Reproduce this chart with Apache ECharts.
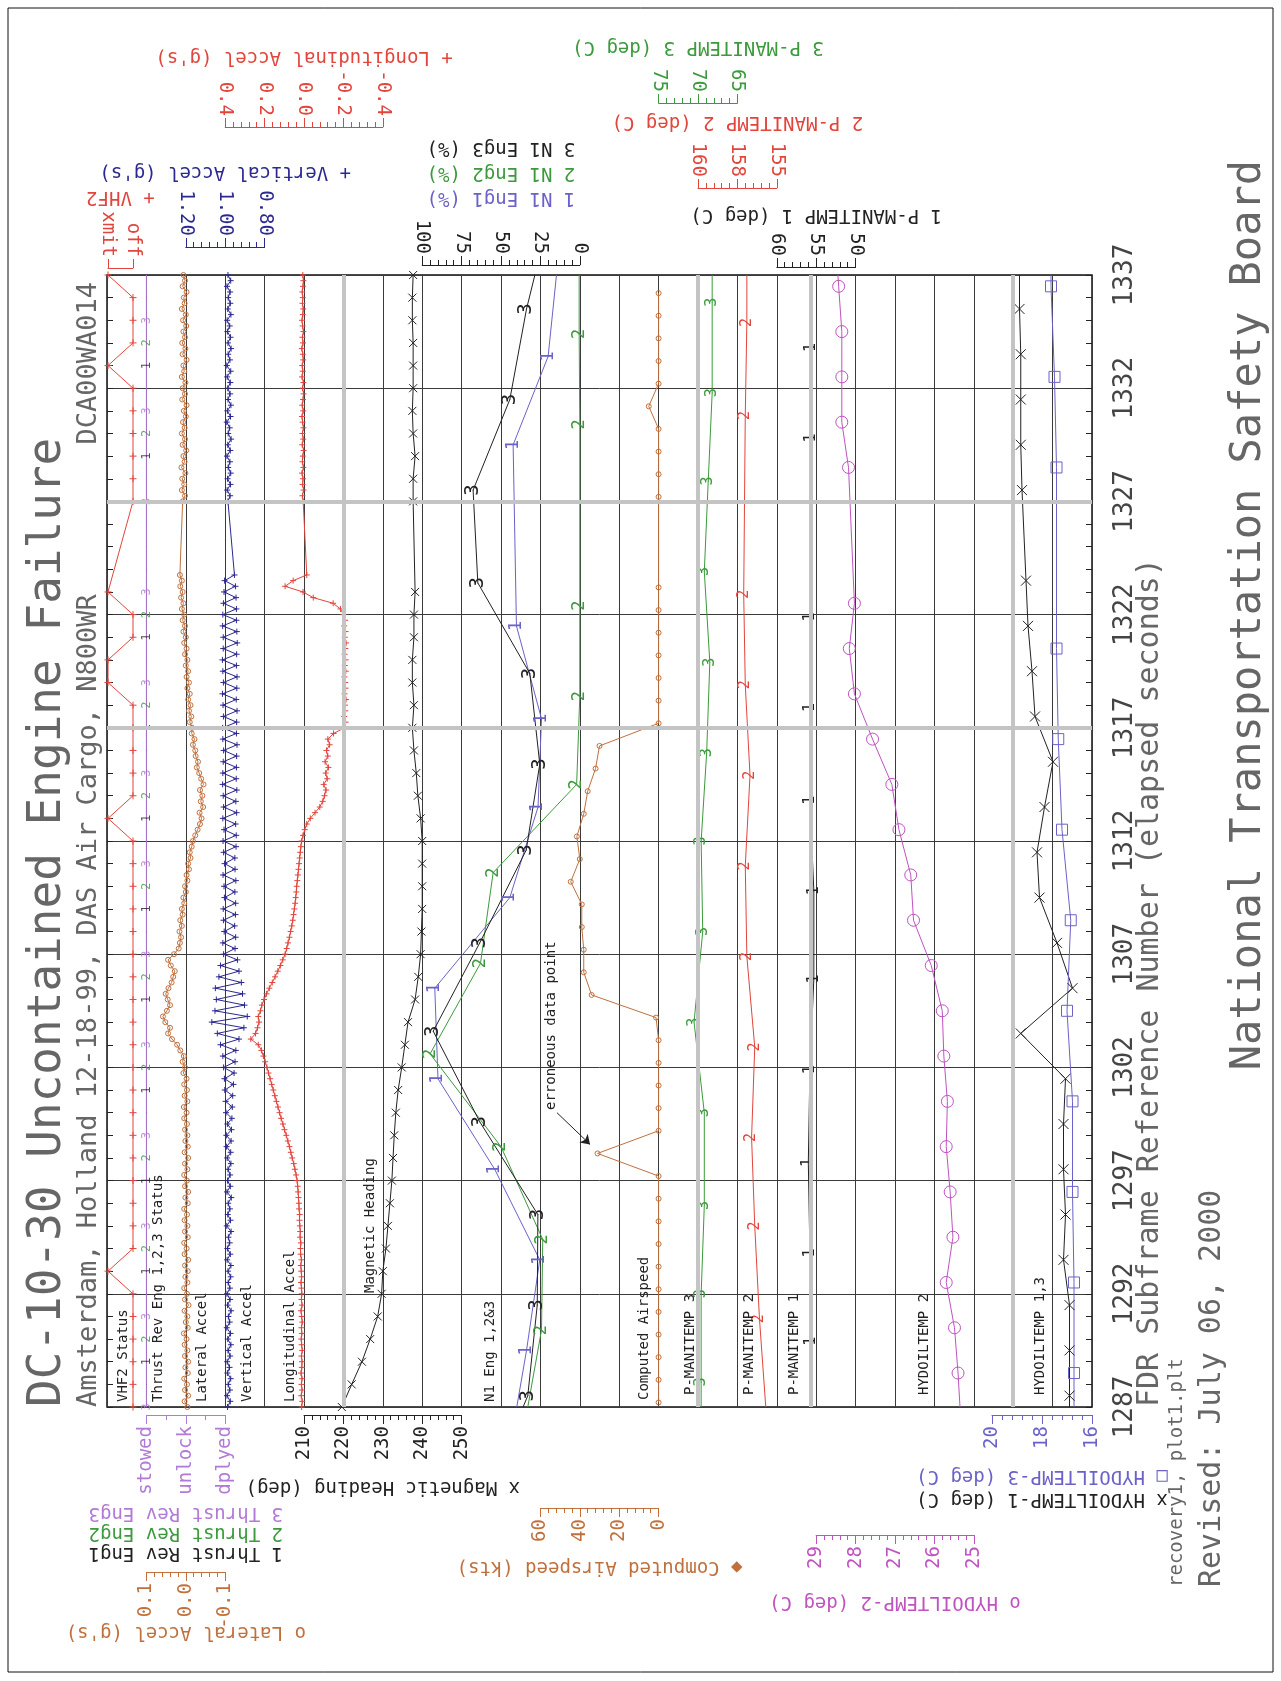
<!DOCTYPE html>
<html>
<head>
<meta charset="utf-8">
<script src="https://cdn.jsdelivr.net/npm/echarts@6/dist/echarts.min.js"></script>
<style>
  html, body { margin: 0; padding: 0; background: #fff; overflow: hidden; }
  #chart { width: 1281px; height: 1681px; }
</style>
</head>
<body>
<div id="chart"></div>
<script>
/* DC-10-30 uncontained engine failure - FDR plot (page is portrait, time runs upward) */

// ---------- data ----------
var tStart = 1287, tEnd = 1337;

// 4 Hz accelerations, first sample at 1287.00 (null = dropout 1324-1327)
var accelStep = 0.25;
var lonAccel = [
  0.012, 0.009, 0.014, 0.010, 0.013, 0.010, 0.015, 0.011, 0.010, 0.013, 0.009, 0.012, 0.014, 0.011, 0.013, 0.009, 0.012, 0.015, 0.010, 0.013,
  0.011, 0.013, 0.015, 0.012, 0.014, 0.016, 0.013, 0.017, 0.018, 0.016, 0.020, 0.019, 0.021, 0.023, 0.022, 0.025, 0.026, 0.028, 0.030, 0.032,
  0.035, 0.040, 0.046, 0.052, 0.060, 0.067, 0.074, 0.082, 0.090, 0.099, 0.107, 0.116, 0.124, 0.132, 0.140, 0.148, 0.156, 0.164, 0.172, 0.180,
  0.188, 0.197, 0.206, 0.216, 0.232, 0.270, 0.246, 0.236, 0.228, 0.232, 0.221, 0.214, 0.203, 0.190, 0.176, 0.161, 0.147, 0.133, 0.120, 0.108,
  0.096, 0.088, 0.081, 0.074, 0.068, 0.062, 0.057, 0.053, 0.049, 0.045, 0.042, 0.039, 0.037, 0.034, 0.031, 0.028, 0.025, 0.022, 0.019, 0.016,
  0.012, 0.005, -0.004, -0.014, -0.032, -0.056, -0.080, -0.095, -0.104, -0.112, -0.100, -0.118, -0.110, -0.124, -0.107, -0.121, -0.114, -0.130, -0.121, -0.150,
  -0.206, -0.211, -0.204, -0.210, -0.208, -0.213, -0.206, -0.211, -0.209, -0.205, -0.212, -0.207, -0.211, -0.206, -0.210, -0.213, -0.207, -0.211, -0.204, -0.209,
  -0.200, -0.185, -0.148, -0.047, 0.005, 0.096, 0.055, -0.014, null, null, null, null, null, null, null, null, null, null, null, null,
  0.004, 0.008, 0.002, 0.007, 0.005, 0.010, 0.003, 0.008, 0.006, 0.002, 0.009, 0.004, 0.008, 0.003, 0.007, 0.010, 0.004, 0.009, 0.005, 0.002,
  0.007, 0.003, 0.010, 0.006, 0.009, 0.004, 0.006, 0.011, 0.005, 0.008, 0.003, 0.007, 0.010, 0.006, 0.004, 0.008, 0.006, 0.009, 0.005, 0.003,
  0.006
];
var vertAccel = [
  0.988, 0.974, 0.991, 0.976, 0.985, 0.972, 0.989, 0.978, 0.990, 0.975, 0.986, 0.971, 0.987, 0.973, 0.992, 0.977, 0.984, 0.970, 0.988, 0.975,
  0.991, 0.976, 0.985, 0.972, 0.986, 0.971, 0.990, 0.974, 0.989, 0.977, 0.984, 0.970, 0.992, 0.973, 0.987, 0.976, 0.985, 0.969, 0.991, 0.974,
  0.988, 0.975, 0.986, 0.971, 0.990, 0.972, 0.993, 0.970, 0.994, 0.968, 0.989, 0.966, 0.996, 0.964, 0.998, 0.962, 1.002, 0.958, 1.004, 0.955,
  1.008, 0.950, 1.012, 0.946, 1.024, 0.930, 1.040, 0.905, 1.068, 0.888, 1.052, 0.902, 1.045, 0.912, 1.050, 0.918, 1.032, 0.930, 1.024, 0.938,
  1.008, 0.950, 1.012, 0.947, 1.005, 0.952, 1.009, 0.948, 1.010, 0.947, 1.004, 0.951, 1.006, 0.946, 1.011, 0.950, 1.003, 0.951, 1.008, 0.945,
  1.011, 0.944, 1.006, 0.947, 1.012, 0.942, 1.008, 0.946, 1.010, 0.941, 1.013, 0.944, 1.012, 0.943, 1.010, 0.942, 1.008, 0.940, 1.012, 0.943,
  1.013, 0.942, 1.009, 0.940, 1.011, 0.944, 1.014, 0.941, 1.009, 0.940, 1.012, 0.943, 1.014, 0.942, 1.010, 0.939, 1.010, 0.941, 1.013, 0.943,
  1.012, 0.943, 1.009, 0.945, 1.006, 0.948, 1.003, 0.953, null, null, null, null, null, null, null, null, null, null, null, null,
  0.986, 0.975, 0.990, 0.973, 0.988, 0.972, 0.985, 0.976, 0.991, 0.974, 0.987, 0.970, 0.985, 0.977, 0.992, 0.973, 0.989, 0.971, 0.986, 0.975,
  0.987, 0.974, 0.990, 0.972, 0.992, 0.976, 0.985, 0.970, 0.986, 0.973, 0.989, 0.977, 0.990, 0.971, 0.987, 0.974, 0.985, 0.975, 0.991, 0.972,
  0.986
];
var latAccel = [
  -0.004, 0.003, -0.006, 0.002, -0.003, 0.004, -0.005, 0.001, -0.006, 0.002, -0.004, 0.003, -0.002, 0.005, -0.005, 0.000, -0.004, 0.003, -0.007, 0.002,
  -0.003, 0.004, -0.004, 0.001, -0.005, 0.002, -0.006, 0.003, -0.002, 0.004, -0.005, 0.002, -0.004, 0.003, -0.003, 0.004, -0.005, 0.001, -0.006, 0.002,
  -0.003, 0.004, -0.004, 0.002, -0.006, 0.003, -0.005, 0.001, -0.004, 0.002, -0.003, 0.004, -0.002, 0.005, -0.004, 0.003, -0.003, 0.004, -0.002, 0.006,
  0.002, 0.008, 0.005, 0.014, 0.022, 0.035, 0.045, 0.040, 0.052, 0.058, 0.048, 0.040, 0.046, 0.051, 0.044, 0.036, 0.032, 0.028, 0.038, 0.045,
  0.030, 0.018, 0.015, 0.012, 0.016, 0.010, 0.014, 0.008, 0.010, 0.004, 0.006, 0.000, 0.002, -0.004, -0.002, -0.008, -0.006, -0.012, -0.010, -0.015,
  -0.018, -0.024, -0.030, -0.036, -0.040, -0.035, -0.044, -0.038, -0.042, -0.036, -0.045, -0.039, -0.034, -0.028, -0.031, -0.025, -0.024, -0.018, -0.022, -0.015,
  -0.016, -0.010, -0.014, -0.008, -0.012, -0.006, -0.010, -0.004, -0.008, -0.002, -0.006, 0.000, -0.004, 0.002, -0.002, 0.004, 0.000, 0.006, 0.002, 0.008,
  0.004, 0.010, 0.006, 0.012, 0.008, 0.014, 0.010, 0.015, null, null, null, null, null, null, null, null, null, null, null, null,
  0.008, 0.002, 0.010, 0.004, 0.009, 0.001, 0.011, 0.003, 0.006, -0.001, 0.008, 0.002, 0.010, 0.003, 0.007, 0.000, 0.005, -0.002, 0.009, 0.002,
  0.008, 0.001, 0.010, 0.004, 0.006, -0.002, 0.008, 0.001, 0.009, 0.002, 0.006, -0.001, 0.007, 0.000, 0.010, 0.003, 0.005, -0.002, 0.008, 0.002,
  0.006
];

// 1 Hz parameters, one value per subframe 1287..1337
var vhfStates = ['off', 'xmit'];
var vhf2Key = [0, 0, 0, 0, 0, 0, 1, 0, 0, 0, 0, 0, 0, 0, 0, 0, 0, 0, 0, 0, 0, 0, 0, 0, 0, 0, 1,
  0, 0, 0, 0, 0, 1, 1, 0, 0, 1, null, null, null, 0, 0, 0, 0, 0, 0, 1, 0, 0, 0, 1];
var magHeading = [219.6, 222.1, 224.7, 226.8, 228.7, 229.7, 230.0, 230.8, 231.3, 231.8, 232.3, 232.6, 232.9,
  233.3, 233.9, 234.8, 235.6, 236.4, 238.2, 239.0, 239.6, 239.8, 240.0, 240.0, 240.0, 240.0, 239.6, 238.9,
  238.5, 237.9, 237.5, 237.9, 237.5, 237.5, 237.9, 237.9, 238.2, null, null, null, 237.7, 237.7, 238.2,
  237.7, 237.5, 237.7, 237.7, 237.7, 237.5, 237.5, 237.7];

// thrust reverser status (all engines stowed), 1 Hz, and digit-marker times
var revStates = ['stowed', 'unlock', 'dplyed'];
var revStatus = [0, 0, 0, 0, 0, 0, 0, 0, 0, 0, 0, 0, 0, 0, 0, 0, 0, 0, 0, 0, 0, 0, 0, 0, 0, 0,
  0, 0, 0, 0, 0, 0, 0, 0, 0, 0, 0, 0, 0, 0, 0, 0, 0, 0, 0, 0, 0, 0, 0, 0, 0];
var revMark1 = [1289, 1293, 1297, 1301, 1305, 1309, 1313, 1317, 1321, 1329, 1333];
var revMark2 = [1290, 1294, 1298, 1302, 1306, 1310, 1314, 1318, 1322, 1330, 1334];
var revMark3 = [1287, 1291, 1295, 1299, 1303, 1307, 1311, 1315, 1319, 1323, 1327, 1331, 1335];

// computed airspeed (kts), 1 Hz starting 1287.2
var airspeedT0 = 1287.2;
var airspeed = [0, 0, 0, 0, 0, 0, 0, 0, 0, 0, 0, 31, 0, 0, 0, 0, 0, 1.3, 34, 38, 38, 39, 39, 44.6,
  40, 41.5, 38, 36, 32, 30, 0, 0, 0, 0, 0, 0, 0, null, null, null, 0, 0, 0, 0, 5, 0, 0, 0, 0, 0];
var erroneousArrow = [[51.6, 1300.0], [34.8, 1298.6]];   // [kts, time] tail -> head

// [time, value] samples
var n1Eng1 = [[1287, 40], [1289.5, 33.8], [1293.5, 25.4], [1297.5, 54], [1301.5, 90], [1305.5, 92],
  [1309.5, 44.4], [1313.5, 26.5], [1317.4, 24.3], [1321.5, 40.2], [1329.5, 42.3], [1333.4, 20.1], [1337, 14.8]];
var n1Eng2 = [[1287, 33], [1290.4, 24.3], [1294.4, 23.5], [1298.5, 50], [1302.6, 95], [1306.6, 63],
  [1310.6, 55], [1314.5, 2], [1318.4, 0], [1322.4, 0], [1330.4, 0], [1334.4, 0.4], [1337, 0.4]];
var n1Eng3 = [[1287, 36], [1287.5, 33], [1291.5, 27], [1295.5, 26.6], [1299.6, 63.5], [1303.6, 93],
  [1307.5, 63.5], [1311.6, 34], [1315.4, 25.4], [1319.4, 31.7], [1323.4, 64.7], [1327.5, 67.7],
  [1331.5, 44.4], [1335.5, 33.8], [1337, 28.5]];
var pManTemp3 = [[1287, 69.6], [1288.1, 69.6], [1292, 69.6], [1295.9, 69.2], [1300, 69.2], [1304, 70.5],
  [1308, 69.4], [1312, 69.6], [1315.9, 68.9], [1319.9, 68.5], [1323.9, 69.2], [1327.9, 68.7],
  [1331.8, 68.2], [1335.8, 68.2], [1337, 68.2]];
var pManTemp2 = [[1287, 155.7], [1290.9, 156.1], [1295, 156.4], [1298.9, 156.6], [1302.9, 156.4],
  [1306.9, 156.9], [1310.9, 157.0], [1314.9, 156.7], [1318.9, 157.0], [1322.9, 157.1], [1330.8, 157.0],
  [1334.9, 156.9], [1337, 156.9]];
var pManTemp1 = [[1287, 55.7], [1289.9, 55.6], [1293.8, 55.8], [1297.8, 56.0], [1301.9, 55.8], [1305.9, 55.3],
  [1309.8, 55.3], [1313.8, 55.8], [1317.9, 55.8], [1321.9, 55.8], [1329.8, 55.6], [1333.8, 55.6], [1337, 55.6]];
var hydTemp2 = [[1287, 25.35], [1288.5, 25.4], [1290.5, 25.49], [1292.5, 25.7], [1294.5, 25.53], [1296.5, 25.6],
  [1298.5, 25.7], [1300.5, 25.67], [1302.5, 25.76], [1304.5, 25.8], [1306.5, 26.08], [1308.5, 26.53],
  [1310.5, 26.6], [1312.5, 26.9], [1314.5, 27.08], [1316.5, 27.57], [1318.5, 28.03], [1320.5, 28.16],
  [1322.5, 28.03], [1328.5, 28.18], [1330.5, 28.35], [1332.5, 28.35], [1334.5, 28.35], [1336.5, 28.43], [1337, 28.45]];
var hydTemp1 = [[1287, 16.9], [1287.5, 16.9], [1289.5, 16.9], [1291.5, 16.9], [1293.5, 17.14], [1295.5, 17.06],
  [1297.5, 17.14], [1299.5, 17.14], [1301.5, 17.06], [1303.5, 18.85], [1305.5, 16.78], [1307.5, 17.4],
  [1309.5, 18.1], [1311.5, 18.2], [1313.5, 17.9], [1315.5, 17.56], [1317.5, 18.28], [1319.5, 18.4],
  [1321.5, 18.56], [1323.5, 18.64], [1327.5, 18.8], [1329.5, 18.85], [1331.5, 18.85], [1333.5, 18.85],
  [1335.5, 18.9], [1337, 18.9]];
var hydTemp3 = [[1287, 16.72], [1288.5, 16.72], [1292.5, 16.72], [1296.5, 16.78], [1300.5, 16.78], [1304.5, 17.0],
  [1308.5, 16.85], [1312.5, 17.2], [1316.5, 17.35], [1320.5, 17.42], [1328.5, 17.42], [1332.5, 17.5],
  [1336.5, 17.64], [1337, 17.64]];

// grey reference lines (plot columns / subframes)
var refCols = [6, 15, 17.85, 23];
var refTimes = [1317, 1327];

// ---------- layout & style ----------
var MONO = "'DejaVu Sans Mono', monospace";
var RED = '#e2453c', BROWN = '#c0703c', NAVY = '#2b2890', BLUE = '#6a62c8',
    GREEN = '#3c9a3c', PURPLE = '#b27ad6', MAGENTA = '#c052c2', BLACK = '#222222', GREY = '#666666';
var PLUS = 'path://M5,0L5,10M0,5L10,5';
var CROSS = 'path://M0,0L10,10M10,0L0,10';

var plotTop = 275, plotBottom = 1407, plotLeft = 107, plotRight = 1092;
var colW = (plotRight - plotLeft) / 25;
function colX(k) { return plotLeft + k * colW; }
function fixed(n) { return function (v) { return Math.abs(v) < 1e-9 ? (0).toFixed(n) : v.toFixed(n); }; }

var panelDefs = [
  { key: 'vhf', x0: 108, x1: 133, min: 0, max: 1, step: 1, minor: 0, inverse: true, side: 'top', offset: 7,
    color: RED, fmt: function (v) { return vhfStates[v]; }, name: '+ VHF2', gap: 62 },
  { key: 'rev', x0: colX(1), x1: colX(3), min: 0, max: 2, step: 1, minor: 2, inverse: false, side: 'bottom', offset: 8,
    color: PURPLE, fmt: function (v) { return revStates[v]; },
    name: '{k|1 Thrust Rev Eng1}\n{g|2 Thrust Rev Eng2}\n{p|3 Thrust Rev Eng3}', gap: 88, lh: 20 },
  { key: 'lat', x0: colX(1), x1: colX(3), min: -0.1, max: 0.1, step: 0.1, minor: 5, inverse: true, side: 'bottom', offset: 165,
    color: BROWN, fmt: fixed(1), name: "o Lateral Accel (g's)", gap: 50 },
  { key: 'vert', x0: colX(2), x1: colX(4), min: 0.8, max: 1.2, step: 0.2, minor: 5, inverse: true, side: 'top', offset: 28,
    color: NAVY, fmt: fixed(2), name: "+ Vertical Accel (g's)", gap: 66 },
  { key: 'lon', x0: colX(3), x1: colX(7), min: -0.4, max: 0.4, step: 0.2, minor: 5, inverse: true, side: 'top', offset: 148,
    color: RED, fmt: fixed(1), name: "+ Longitudinal Accel (g's)", gap: 61 },
  { key: 'hdg', x0: colX(5), x1: colX(9), min: 210, max: 250, step: 10, minor: 5, inverse: false, side: 'bottom', offset: 8,
    color: BLACK, fmt: null, name: 'x Magnetic Heading (deg)', gap: 62 },
  { key: 'n1', x0: colX(8), x1: colX(12), min: 0, max: 100, step: 25, minor: 5, inverse: true, side: 'top', offset: 10,
    color: BLACK, fmt: null, name: '{b|1 N1 Eng1 (%)}\n{g|2 N1 Eng2 (%)}\n{k|3 N1 Eng3 (%)}', gap: 55, lh: 25 },
  { key: 'cas', x0: colX(11), x1: colX(14), min: 0, max: 60, step: 20, minor: 5, inverse: true, side: 'bottom', offset: 101,
    color: BROWN, fmt: null, name: '\u25c6 Computed Airspeed (kts)', gap: 49 },
  { key: 'pm3', x0: colX(14), x1: colX(16), min: 65, max: 75, step: 5, minor: 5, inverse: true, side: 'top', offset: 172,
    color: GREEN, fmt: null, name: '3 P-MANITEMP 3 (deg C)', gap: 47 },
  { key: 'pm2', x0: colX(15), x1: colX(17), min: 155, max: 160, step: 2.5, minor: 5, inverse: true, side: 'top', offset: 87,
    color: RED, fmt: function (v) { return String(Math.round(v)); }, name: '2 P-MANITEMP 2 (deg C)', gap: 57 },
  { key: 'pm1', x0: colX(17), x1: colX(19), min: 50, max: 60, step: 5, minor: 5, inverse: true, side: 'top', offset: 8,
    color: BLACK, fmt: null, name: '1 P-MANITEMP 1 (deg C)', gap: 43 },
  { key: 'hyd2', x0: colX(18), x1: colX(22), min: 25, max: 29, step: 1, minor: 5, inverse: true, side: 'bottom', offset: 128,
    color: MAGENTA, fmt: null, name: 'o HYDOILTEMP-2 (deg C)', gap: 57 },
  { key: 'hyd13', x0: 992, x1: colX(25), min: 16, max: 20, step: 2, minor: 5, inverse: true, side: 'bottom', offset: 8,
    color: BLUE, fmt: null, name: '{k|x HYDOILTEMP-1 (deg C)}\n{b|\u25a1 HYDOILTEMP-3 (deg C)}', gap: 49, lh: 23 }
];
var P = {};
panelDefs.forEach(function (d, i) { P[d.key] = i; });

function rich(lh) {
  var r = {}, cols = { k: BLACK, g: GREEN, p: PURPLE, b: BLUE };
  for (var c in cols) r[c] = { color: cols[c], fontFamily: MONO, fontSize: 19, lineHeight: lh };
  return r;
}

var grids = [{ left: plotLeft, top: plotTop, width: plotRight - plotLeft, height: plotBottom - plotTop,
  show: true, borderColor: '#111', borderWidth: 1.5, backgroundColor: 'transparent', outerBoundsMode: 'none' }];
var xAxes = [{ gridIndex: 0, type: 'value', min: 0, max: 25, interval: 1,
  axisLine: { show: false }, axisTick: { show: false }, axisLabel: { show: false },
  splitLine: { show: true, lineStyle: { color: '#3a3a3a', width: 1 } } }];
var timeAxisBase = { gridIndex: 0, type: 'value', min: tStart, max: tEnd, interval: 5,
  axisLine: { show: false },
  axisTick: { show: true, inside: true, length: 6, lineStyle: { color: '#222' } },
  minorTick: { show: true, splitNumber: 5, length: 6, lineStyle: { color: '#222' } } };
var yAxes = [
  echarts.util.merge({ position: 'left', axisLabel: { show: false },
    splitLine: { show: true, lineStyle: { color: '#3a3a3a', width: 1 } } }, timeAxisBase, true),
  echarts.util.merge({ position: 'right', splitLine: { show: false },
    axisLabel: { show: true, rotate: 90, margin: 20, color: '#444', fontSize: 26, fontFamily: MONO,
      showMinLabel: true, showMaxLabel: true, formatter: function (v) { return String(v); } } }, timeAxisBase, true)
];

panelDefs.forEach(function (d, i) {
  grids.push({ left: d.x0, width: d.x1 - d.x0, top: plotTop, height: plotBottom - plotTop,
    show: false, outerBoundsMode: 'none' });
  var ax = {
    gridIndex: i + 1, type: 'value', min: d.min, max: d.max, interval: d.step, inverse: d.inverse,
    position: d.side, offset: d.offset,
    axisLine: { show: true, onZero: false, lineStyle: { color: d.color, width: 1 } },
    axisTick: { show: true, length: 9, lineStyle: { color: d.color } },
    minorTick: { show: d.minor > 0, splitNumber: d.minor || 5, length: 5, lineStyle: { color: d.color } },
    splitLine: { show: false }, minorSplitLine: { show: false },
    axisLabel: { show: true, rotate: 90, margin: 11, color: d.color, fontSize: 19, fontFamily: MONO,
      showMinLabel: true, showMaxLabel: true },
    name: d.name, nameLocation: 'middle', nameGap: d.gap, nameRotate: 180, nameMoveOverlap: false,
    nameTextStyle: { color: d.key === 'n1' || d.key === 'hyd13' ? BLACK : d.color, fontSize: 19, fontFamily: MONO }
  };
  if (d.fmt) ax.axisLabel.formatter = d.fmt;
  if (d.lh) ax.nameTextStyle.rich = rich(d.lh);
  xAxes.push(ax);
  yAxes.push({ gridIndex: i + 1, type: 'value', min: tStart, max: tEnd, show: false });
});

// ---------- series ----------
function clock(values, t0, step) {
  return values.map(function (v, i) { return [v === null ? '-' : v, t0 + i * step]; });
}
function pairs(pts) {
  return pts.map(function (p) {
    var item = { value: [p[1], p[0]] };
    if (p[0] === tStart || p[0] === tEnd) { item.symbol = 'none'; item.label = { show: false }; }
    return item;
  });
}
function base(key, data, color) {
  return { type: 'line', xAxisIndex: P[key] + 1, yAxisIndex: P[key] + 2, data: data,
    symbol: 'none', showSymbol: false,
    connectNulls: true, clip: false, silent: true, animation: false,
    lineStyle: { color: color, width: 1 }, itemStyle: { color: color }, emphasis: { disabled: true } };
}
function marked(key, data, color, symbol, size) {
  var s = base(key, data, color);
  s.symbol = symbol; s.symbolSize = size; s.showSymbol = true;
  s.itemStyle = { color: 'rgba(0,0,0,0)', borderColor: color, borderWidth: 1 };
  return s;
}
function digits(key, data, color, digit, size) {
  var s = base(key, data, color);
  s.symbol = 'circle'; s.symbolSize = 1; s.showSymbol = true;
  s.label = { show: true, position: 'inside', formatter: digit, rotate: 90, color: color,
    fontSize: size, fontFamily: MONO };
  return s;
}
function revMarks(times, color, digit) {
  var s = digits('rev', times.map(function (t) { return [revStatus[t - tStart], t]; }), color, digit, 12);
  s.type = 'scatter';
  s.z = 3;
  return s;
}

var airSeries = marked('cas', clock(airspeed, airspeedT0, 1), BROWN, 'circle', 5);
airSeries.markLine = { silent: true, symbol: ['none', 'arrow'], symbolSize: 9, animation: false,
  label: { show: false }, lineStyle: { color: BLACK, width: 1, type: 'solid' },
  data: [[{ coord: erroneousArrow[0] }, { coord: erroneousArrow[1] }]] };

var refSeries = { type: 'line', xAxisIndex: 0, yAxisIndex: 0, data: [[0, tStart]], symbol: 'none',
  lineStyle: { opacity: 0 }, silent: true, animation: false, z: 1,
  markLine: { silent: true, symbol: ['none', 'none'], animation: false, label: { show: false },
    lineStyle: { color: '#c4c4c4', width: 4, type: 'solid' },
    data: refCols.map(function (c) { return { xAxis: c }; })
      .concat(refTimes.map(function (t) { return { yAxis: t }; })) } };

var series = [
  refSeries,
  marked('vhf', clock(vhf2Key, tStart, 1), RED, PLUS, 7),
  base('rev', clock(revStatus, tStart, 1), PURPLE),
  revMarks(revMark1, BLACK, '1'),
  revMarks(revMark2, GREEN, '2'),
  revMarks(revMark3, PURPLE, '3'),
  marked('lat', clock(latAccel, tStart, accelStep), BROWN, 'circle', 5),
  marked('vert', clock(vertAccel, tStart, accelStep), NAVY, PLUS, 6),
  marked('lon', clock(lonAccel, tStart, accelStep), RED, PLUS, 6),
  marked('hdg', clock(magHeading, tStart, 1), BLACK, CROSS, 8),
  digits('n1', pairs(n1Eng1), BLUE, '1', 17),
  digits('n1', pairs(n1Eng2), GREEN, '2', 17),
  digits('n1', pairs(n1Eng3), BLACK, '3', 19),
  airSeries,
  digits('pm3', pairs(pManTemp3), GREEN, '3', 15),
  digits('pm2', pairs(pManTemp2), RED, '2', 15),
  digits('pm1', pairs(pManTemp1), BLACK, '1', 15),
  marked('hyd2', pairs(hydTemp2), MAGENTA, 'circle', 12),
  marked('hyd13', pairs(hydTemp1), BLACK, CROSS, 10),
  marked('hyd13', pairs(hydTemp3), BLUE, 'rect', 11)
];

// ---------- texts (all rotated to read bottom-to-top) ----------
function vtext(str, x, y, size, color, align) {
  return { type: 'text', x: x, y: y, rotation: Math.PI / 2, silent: true, z: 10,
    style: { text: str, fill: color, fontSize: size, fontFamily: MONO,
      textAlign: align || 'left', align: align || 'left', textVerticalAlign: 'middle', verticalAlign: 'middle' } };
}
var panelLabels = [
  ['VHF2 Status', 123, 1402], ['Thrust Rev Eng 1,2,3 Status', 158, 1402], ['Lateral Accel', 202, 1402],
  ['Vertical Accel', 247, 1402], ['Longitudinal Accel', 290, 1402], ['Magnetic Heading', 370, 1293],
  ['N1 Eng 1,2&3', 490, 1402], ['Computed Airspeed', 644, 1400], ['P-MANITEMP 3', 690, 1395],
  ['P-MANITEMP 2', 749, 1395], ['P-MANITEMP 1', 794, 1395], ['HYDOILTEMP 2', 924, 1395],
  ['HYDOILTEMP 1,3', 1040, 1395]
];
var graphics = [
  { type: 'rect', silent: true, shape: { x: 8, y: 8, width: 1265, height: 1664 },
    style: { fill: 'none', stroke: '#111', lineWidth: 1 } },
  vtext('DC-10-30 Uncontained Engine Failure', 48, 1407, 46, GREY),
  vtext('Amsterdam, Holland 12-18-99, DAS Air Cargo, N800WR', 89, 1407, 27, GREY),
  vtext('DCA00WA014', 89, 282, 27, GREY, 'right'),
  vtext('FDR Subframe Reference Number (elapsed seconds)', 1150, 1407, 30, GREY),
  vtext('recovery1, plot1.plt', 1177, 1587, 19, GREY),
  vtext('Revised: July 06, 2000', 1212, 1587, 30, GREY),
  vtext('National Transportation Safety Board', 1249, 160, 42, GREY, 'right'),
  vtext('erroneous data point', 551, 1110, 14, BLACK)
];
panelLabels.forEach(function (l) { graphics.push(vtext(l[0], l[1], l[2], 14, BLACK)); });

var chart = echarts.init(document.getElementById('chart'), null, { renderer: 'canvas' });
chart.setOption({
  animation: false,
  backgroundColor: '#ffffff',
  textStyle: { fontFamily: MONO },
  grid: grids,
  xAxis: xAxes,
  yAxis: yAxes,
  series: series,
  graphic: { elements: graphics }
});
</script>
</body>
</html>
